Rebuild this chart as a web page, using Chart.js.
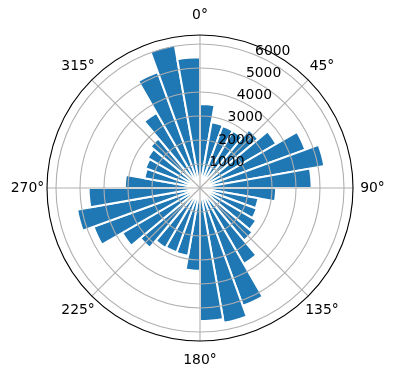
<!DOCTYPE html>
<html>
<head>
<meta charset="utf-8">
<script src="https://cdn.jsdelivr.net/npm/chart.js@4/dist/chart.umd.min.js"></script>
<style>
  html, body { margin: 0; padding: 0; background: #fff; }
  canvas { display: block; }
</style>
</head>
<body>
<canvas id="rose" width="396" height="380"></canvas>
<script>
// 36 direction bins, 10 degrees each, clockwise from north
const directions = [];
for (let d = 0; d < 360; d += 10) directions.push(d + '-' + (d + 10));

const counts = [
  3500, 2780, 2750, 2750, 3170, 3670, 4670, 5260, 4650,
  3170, 2470, 2520, 2700, 2860, 3650, 5220, 5700, 5540,
  3450, 2870, 2850, 2875, 3250, 3740, 4720, 5200, 4640,
  3130, 2350, 2420, 2520, 2690, 3620, 5140, 6050, 5450
];

const radialTicks = [1000, 2000, 3000, 4000, 5000, 6000];
const rMax = 6375;
const angleTicks = [0, 45, 90, 135, 180, 225, 270, 315];
const angleLabels = ['0°', '45°', '90°', '135°', '180°', '225°', '270°', '315°'];
const rLabelAngle = 22.5;

// spokes, outer spine and the text matplotlib puts round a polar axes
const polarDecor = {
  id: 'polarDecor',
  afterDraw(chart) {
    const r = chart.scales.r;
    const ctx = chart.ctx;
    const cx = r.xCenter, cy = r.yCenter;
    const R = r.getDistanceFromCenterForValue(rMax);
    ctx.save();
    ctx.strokeStyle = '#b0b0b0';
    ctx.lineWidth = 1.1;
    angleTicks.forEach(a => {
      const t = (a - 90) * Math.PI / 180;
      ctx.beginPath();
      ctx.moveTo(cx, cy);
      ctx.lineTo(cx + R * Math.cos(t), cy + R * Math.sin(t));
      ctx.stroke();
    });
    ctx.strokeStyle = '#000';
    ctx.beginPath();
    ctx.arc(cx, cy, R, 0, 2 * Math.PI);
    ctx.stroke();

    ctx.fillStyle = '#000';
    ctx.font = '13.9px "DejaVu Sans"';
    ctx.textAlign = 'center';
    ctx.textBaseline = 'middle';
    angleTicks.forEach((a, i) => {
      const t = (a - 90) * Math.PI / 180;
      ctx.fillText(angleLabels[i], cx + (R + 19.5) * Math.cos(t), cy + (R + 19.5) * Math.sin(t));
    });

    ctx.textAlign = 'left';
    ctx.textBaseline = 'alphabetic';
    const t = (rLabelAngle - 90) * Math.PI / 180;
    radialTicks.forEach(v => {
      const d = r.getDistanceFromCenterForValue(v);
      ctx.fillText(String(v), cx + d * Math.cos(t), cy + d * Math.sin(t));
    });
    ctx.restore();
  }
};

const ctx = document.getElementById('rose').getContext('2d');
const chart = new Chart(ctx, {
  type: 'polarArea',
  data: {
    labels: directions,
    datasets: [{
      data: counts,
      backgroundColor: '#1f77b4',
      borderColor: '#ffffff',
      borderWidth: 2
    }]
  },
  options: {
    responsive: false,
    animation: false,
    layout: { padding: { left: 47, right: 43, top: 35, bottom: 39 } },
    plugins: {
      legend: { display: false },
      tooltip: { enabled: false }
    },
    scales: {
      r: {
        min: 0,
        max: rMax,
        startAngle: 0,
        afterBuildTicks: (scale) => {
          scale.ticks = [0].concat(radialTicks).map(v => ({ value: v }));
        },
        ticks: { display: false },
        pointLabels: { display: false },
        angleLines: { display: false },
        grid: { circular: true, color: '#b0b0b0', lineWidth: 1.1, z: 1 }
      }
    }
  },
  plugins: [polarDecor]
});
</script>
</body>
</html>
